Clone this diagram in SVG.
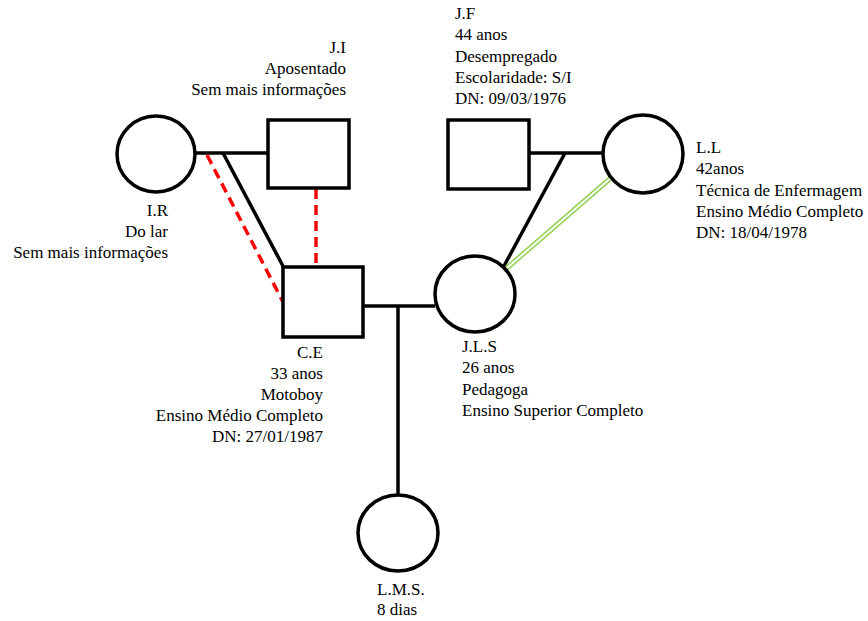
<svg xmlns="http://www.w3.org/2000/svg" width="868" height="621" viewBox="0 0 868 621">
<style>
.n{fill:#fff;stroke:#000;stroke-width:3.5}
.l{stroke:#000;stroke-width:3.5;fill:none}
.r{stroke:#ff0000;stroke-width:3.5;stroke-dasharray:10 6;fill:none}
.g{stroke:#92d050;stroke-width:5;fill:none}
.gw{stroke:#fff;stroke-width:2;fill:none}
text{font-family:"Liberation Serif","Times New Roman",serif;font-size:17px;fill:#000}
.e{text-anchor:end}
</style>
<rect width="868" height="621" fill="#fff"/>
<g id="connectors">
<line class="l" x1="195" y1="153" x2="268" y2="153"/>
<line class="l" x1="223" y1="153" x2="284" y2="268"/>
<line class="r" x1="207" y1="155" x2="283" y2="302"/>
<line class="r" x1="316" y1="189" x2="316" y2="267"/>
<line class="l" x1="529" y1="153" x2="603" y2="153"/>
<line class="l" x1="565" y1="153" x2="504" y2="266"/>
<line class="g" x1="612" y1="177" x2="507" y2="268"/>
<line class="gw" x1="612" y1="177" x2="507" y2="268"/>
<line class="l" x1="363" y1="306" x2="435" y2="306"/>
<line class="l" x1="398" y1="306" x2="398" y2="495"/>
</g>
<g id="IR">
<ellipse class="n" cx="156" cy="154" rx="39" ry="38"/>
<text class="e" x="168" y="216">I.R</text>
<text class="e" x="168" y="237">Do lar</text>
<text class="e" x="168" y="258">Sem mais informações</text>
</g>
<g id="JI">
<rect class="n" x="268" y="120" width="81" height="68"/>
<text class="e" x="346" y="53">J.I</text>
<text class="e" x="346" y="74">Aposentado</text>
<text class="e" x="346" y="95">Sem mais informações</text>
</g>
<g id="JF">
<rect class="n" x="448" y="120" width="81" height="69"/>
<text x="455" y="19">J.F</text>
<text x="455" y="40">44 anos</text>
<text x="455" y="62">Desempregado</text>
<text x="455" y="83">Escolaridade: S/I</text>
<text x="455" y="104">DN: 09/03/1976</text>
</g>
<g id="LL">
<ellipse class="n" cx="643" cy="154" rx="40" ry="39"/>
<text x="696" y="153">L.L</text>
<text x="696" y="174">42anos</text>
<text x="696" y="196">Técnica de Enfermagem</text>
<text x="696" y="217">Ensino Médio Completo</text>
<text x="696" y="238">DN: 18/04/1978</text>
</g>
<g id="CE">
<rect class="n" x="283" y="267" width="80" height="70"/>
<text class="e" x="323" y="358">C.E</text>
<text class="e" x="323" y="379">33 anos</text>
<text class="e" x="323" y="400">Motoboy</text>
<text class="e" x="323" y="421">Ensino Médio Completo</text>
<text class="e" x="323" y="442">DN: 27/01/1987</text>
</g>
<g id="JLS">
<ellipse class="n" cx="475" cy="294" rx="40" ry="38"/>
<text x="462" y="352">J.L.S</text>
<text x="462" y="373">26 anos</text>
<text x="462" y="395">Pedagoga</text>
<text x="462" y="416">Ensino Superior Completo</text>
</g>
<g id="LMS">
<ellipse class="n" cx="398" cy="533" rx="40" ry="38"/>
<text x="377" y="595">L.M.S.</text>
<text x="377" y="615">8 dias</text>
</g>
</svg>
